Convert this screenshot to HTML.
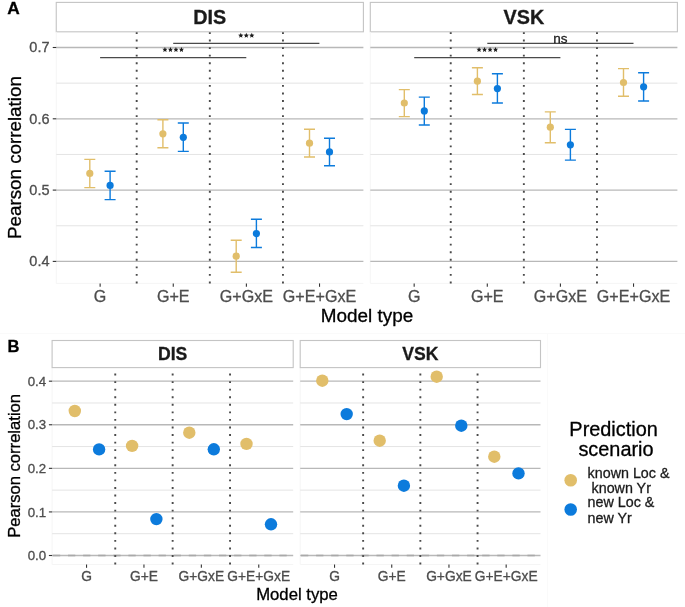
<!DOCTYPE html>
<html><head><meta charset="utf-8"><style>
html,body{margin:0;padding:0;background:#fff;}
svg{display:block;will-change:transform;}
svg text{font-family:"Liberation Sans",sans-serif;stroke-width:0.3px;}
</style></head><body>
<svg width="685" height="607" viewBox="0 0 685 607">
<rect width="685" height="607" fill="#fff"/>
<rect x="56.25" y="2.4" width="307.15" height="29.4" fill="#fff" stroke="#c4c4c4" stroke-width="1.1"/>
<text x="209.82" y="24.2" font-size="19.8" font-weight="bold" text-anchor="middle" fill="#1a1a1a" stroke="#1a1a1a">DIS</text>
<path d="M56.25 31.8V283.4H363.4" fill="none" stroke="#f5f5f5" stroke-width="1"/>
<line x1="56.25" x2="363.4" y1="225.75" y2="225.75" stroke="#e4e4e4" stroke-width="1"/>
<line x1="56.25" x2="363.4" y1="154.45" y2="154.45" stroke="#e4e4e4" stroke-width="1"/>
<line x1="56.25" x2="363.4" y1="83.15" y2="83.15" stroke="#e4e4e4" stroke-width="1"/>
<line x1="56.25" x2="363.4" y1="261.4" y2="261.4" stroke="#b8b8b8" stroke-width="1.3"/>
<line x1="56.25" x2="363.4" y1="190.1" y2="190.1" stroke="#b8b8b8" stroke-width="1.3"/>
<line x1="56.25" x2="363.4" y1="118.8" y2="118.8" stroke="#b8b8b8" stroke-width="1.3"/>
<line x1="56.25" x2="363.4" y1="47.5" y2="47.5" stroke="#b8b8b8" stroke-width="1.3"/>
<line x1="136.69" x2="136.69" y1="283.4" y2="32.2" stroke="#4a4a4a" stroke-width="1.9" stroke-dasharray="1.9 5.66"/>
<line x1="209.82" x2="209.82" y1="283.4" y2="32.2" stroke="#4a4a4a" stroke-width="1.9" stroke-dasharray="1.9 5.66"/>
<line x1="282.96" x2="282.96" y1="283.4" y2="32.2" stroke="#4a4a4a" stroke-width="1.9" stroke-dasharray="1.9 5.66"/>
<line x1="100.13" x2="100.13" y1="283.4" y2="286.8" stroke="#333333" stroke-width="1.1"/>
<line x1="173.26" x2="173.26" y1="283.4" y2="286.8" stroke="#333333" stroke-width="1.1"/>
<line x1="246.39" x2="246.39" y1="283.4" y2="286.8" stroke="#333333" stroke-width="1.1"/>
<line x1="319.52" x2="319.52" y1="283.4" y2="286.8" stroke="#333333" stroke-width="1.1"/>
<text x="100.13" y="301.6" font-size="16.1" text-anchor="middle" fill="#4d4d4d" stroke="#4d4d4d">G</text>
<text x="173.26" y="301.6" font-size="16.1" text-anchor="middle" fill="#4d4d4d" stroke="#4d4d4d">G+E</text>
<text x="246.39" y="301.6" font-size="16.1" text-anchor="middle" fill="#4d4d4d" stroke="#4d4d4d">G+GxE</text>
<text x="319.52" y="301.6" font-size="16.1" text-anchor="middle" fill="#4d4d4d" stroke="#4d4d4d">G+E+GxE</text>
<rect x="370.3" y="2.4" width="307.1" height="29.4" fill="#fff" stroke="#c4c4c4" stroke-width="1.1"/>
<text x="523.85" y="24.2" font-size="19.8" font-weight="bold" text-anchor="middle" fill="#1a1a1a" stroke="#1a1a1a">VSK</text>
<path d="M370.3 31.8V283.4H677.4" fill="none" stroke="#f5f5f5" stroke-width="1"/>
<line x1="370.3" x2="677.4" y1="225.75" y2="225.75" stroke="#e4e4e4" stroke-width="1"/>
<line x1="370.3" x2="677.4" y1="154.45" y2="154.45" stroke="#e4e4e4" stroke-width="1"/>
<line x1="370.3" x2="677.4" y1="83.15" y2="83.15" stroke="#e4e4e4" stroke-width="1"/>
<line x1="370.3" x2="677.4" y1="261.4" y2="261.4" stroke="#b8b8b8" stroke-width="1.3"/>
<line x1="370.3" x2="677.4" y1="190.1" y2="190.1" stroke="#b8b8b8" stroke-width="1.3"/>
<line x1="370.3" x2="677.4" y1="118.8" y2="118.8" stroke="#b8b8b8" stroke-width="1.3"/>
<line x1="370.3" x2="677.4" y1="47.5" y2="47.5" stroke="#b8b8b8" stroke-width="1.3"/>
<line x1="450.73" x2="450.73" y1="283.4" y2="32.2" stroke="#4a4a4a" stroke-width="1.9" stroke-dasharray="1.9 5.66"/>
<line x1="523.85" x2="523.85" y1="283.4" y2="32.2" stroke="#4a4a4a" stroke-width="1.9" stroke-dasharray="1.9 5.66"/>
<line x1="596.97" x2="596.97" y1="283.4" y2="32.2" stroke="#4a4a4a" stroke-width="1.9" stroke-dasharray="1.9 5.66"/>
<line x1="414.17" x2="414.17" y1="283.4" y2="286.8" stroke="#333333" stroke-width="1.1"/>
<line x1="487.29" x2="487.29" y1="283.4" y2="286.8" stroke="#333333" stroke-width="1.1"/>
<line x1="560.41" x2="560.41" y1="283.4" y2="286.8" stroke="#333333" stroke-width="1.1"/>
<line x1="633.53" x2="633.53" y1="283.4" y2="286.8" stroke="#333333" stroke-width="1.1"/>
<text x="414.17" y="301.6" font-size="16.1" text-anchor="middle" fill="#4d4d4d" stroke="#4d4d4d">G</text>
<text x="487.29" y="301.6" font-size="16.1" text-anchor="middle" fill="#4d4d4d" stroke="#4d4d4d">G+E</text>
<text x="560.41" y="301.6" font-size="16.1" text-anchor="middle" fill="#4d4d4d" stroke="#4d4d4d">G+GxE</text>
<text x="633.53" y="301.6" font-size="16.1" text-anchor="middle" fill="#4d4d4d" stroke="#4d4d4d">G+E+GxE</text>
<line x1="52.75" x2="56.25" y1="261.4" y2="261.4" stroke="#333333" stroke-width="1.1"/>
<text x="49.5" y="266.2" font-size="14.5" text-anchor="end" fill="#4d4d4d" stroke="#4d4d4d">0.4</text>
<line x1="52.75" x2="56.25" y1="190.1" y2="190.1" stroke="#333333" stroke-width="1.1"/>
<text x="49.5" y="194.9" font-size="14.5" text-anchor="end" fill="#4d4d4d" stroke="#4d4d4d">0.5</text>
<line x1="52.75" x2="56.25" y1="118.8" y2="118.8" stroke="#333333" stroke-width="1.1"/>
<text x="49.5" y="123.6" font-size="14.5" text-anchor="end" fill="#4d4d4d" stroke="#4d4d4d">0.6</text>
<line x1="52.75" x2="56.25" y1="47.5" y2="47.5" stroke="#333333" stroke-width="1.1"/>
<text x="49.5" y="52.3" font-size="14.5" text-anchor="end" fill="#4d4d4d" stroke="#4d4d4d">0.7</text>
<line x1="100.1" x2="246.3" y1="57.7" y2="57.7" stroke="#4a4a4a" stroke-width="1.2"/>
<polygon points="164.95,46.95 165.68,48.69 167.57,48.85 166.14,50.09 166.57,51.92 164.95,50.95 163.33,51.92 163.76,50.09 162.33,48.85 164.22,48.69" fill="#1c1c1c"/>
<polygon points="170.45,46.95 171.18,48.69 173.07,48.85 171.64,50.09 172.07,51.92 170.45,50.95 168.83,51.92 169.26,50.09 167.83,48.85 169.72,48.69" fill="#1c1c1c"/>
<polygon points="175.95,46.95 176.68,48.69 178.57,48.85 177.14,50.09 177.57,51.92 175.95,50.95 174.33,51.92 174.76,50.09 173.33,48.85 175.22,48.69" fill="#1c1c1c"/>
<polygon points="181.45,46.95 182.18,48.69 184.07,48.85 182.64,50.09 183.07,51.92 181.45,50.95 179.83,51.92 180.26,50.09 178.83,48.85 180.72,48.69" fill="#1c1c1c"/>
<line x1="173.2" x2="319.4" y1="43.45" y2="43.45" stroke="#4a4a4a" stroke-width="1.2"/>
<polygon points="240.80,32.75 241.53,34.49 243.42,34.65 241.99,35.89 242.42,37.72 240.80,36.75 239.18,37.72 239.61,35.89 238.18,34.65 240.07,34.49" fill="#1c1c1c"/>
<polygon points="246.30,32.75 247.03,34.49 248.92,34.65 247.49,35.89 247.92,37.72 246.30,36.75 244.68,37.72 245.11,35.89 243.68,34.65 245.57,34.49" fill="#1c1c1c"/>
<polygon points="251.80,32.75 252.53,34.49 254.42,34.65 252.99,35.89 253.42,37.72 251.80,36.75 250.18,37.72 250.61,35.89 249.18,34.65 251.07,34.49" fill="#1c1c1c"/>
<line x1="414.2" x2="560.4" y1="57.7" y2="57.7" stroke="#4a4a4a" stroke-width="1.2"/>
<polygon points="479.05,46.95 479.78,48.69 481.67,48.85 480.24,50.09 480.67,51.92 479.05,50.95 477.43,51.92 477.86,50.09 476.43,48.85 478.32,48.69" fill="#1c1c1c"/>
<polygon points="484.55,46.95 485.28,48.69 487.17,48.85 485.74,50.09 486.17,51.92 484.55,50.95 482.93,51.92 483.36,50.09 481.93,48.85 483.82,48.69" fill="#1c1c1c"/>
<polygon points="490.05,46.95 490.78,48.69 492.67,48.85 491.24,50.09 491.67,51.92 490.05,50.95 488.43,51.92 488.86,50.09 487.43,48.85 489.32,48.69" fill="#1c1c1c"/>
<polygon points="495.55,46.95 496.28,48.69 498.17,48.85 496.74,50.09 497.17,51.92 495.55,50.95 493.93,51.92 494.36,50.09 492.93,48.85 494.82,48.69" fill="#1c1c1c"/>
<line x1="487.3" x2="633.5" y1="43.45" y2="43.45" stroke="#4a4a4a" stroke-width="1.2"/>
<text x="560.4" y="43.3" font-size="13.5" text-anchor="middle" fill="#1c1c1c" stroke="#1c1c1c">ns</text>
<path d="M84.3 159.4H95.3M89.8 159.4V187.6M84.3 187.6H95.3" stroke="#E1BE6A" stroke-width="1.4" fill="none"/>
<circle cx="89.8" cy="173.4" r="3.6" fill="#E1BE6A"/>
<path d="M104.6 171.3H115.6M110.1 171.3V199.6M104.6 199.6H115.6" stroke="#0C7BDC" stroke-width="1.4" fill="none"/>
<circle cx="110.1" cy="185.4" r="3.6" fill="#0C7BDC"/>
<path d="M157.4 119.8H168.4M162.9 119.8V147.8M157.4 147.8H168.4" stroke="#E1BE6A" stroke-width="1.4" fill="none"/>
<circle cx="162.9" cy="133.8" r="3.6" fill="#E1BE6A"/>
<path d="M177.8 123H188.8M183.3 123V151.4M177.8 151.4H188.8" stroke="#0C7BDC" stroke-width="1.4" fill="none"/>
<circle cx="183.3" cy="137.3" r="3.6" fill="#0C7BDC"/>
<path d="M230.7 240.2H241.7M236.2 240.2V272.3M230.7 272.3H241.7" stroke="#E1BE6A" stroke-width="1.4" fill="none"/>
<circle cx="236.2" cy="256.2" r="3.6" fill="#E1BE6A"/>
<path d="M250.9 219.2H261.9M256.4 219.2V247.5M250.9 247.5H261.9" stroke="#0C7BDC" stroke-width="1.4" fill="none"/>
<circle cx="256.4" cy="233.6" r="3.6" fill="#0C7BDC"/>
<path d="M304.0 129.3H315.0M309.5 129.3V157M304.0 157H315.0" stroke="#E1BE6A" stroke-width="1.4" fill="none"/>
<circle cx="309.5" cy="143.2" r="3.6" fill="#E1BE6A"/>
<path d="M324.0 138.2H335.0M329.5 138.2V165.7M324.0 165.7H335.0" stroke="#0C7BDC" stroke-width="1.4" fill="none"/>
<circle cx="329.5" cy="151.9" r="3.6" fill="#0C7BDC"/>
<path d="M398.8 89.6H409.8M404.3 89.6V116.6M398.8 116.6H409.8" stroke="#E1BE6A" stroke-width="1.4" fill="none"/>
<circle cx="404.3" cy="103" r="3.6" fill="#E1BE6A"/>
<path d="M418.8 97.1H429.8M424.3 97.1V125M418.8 125H429.8" stroke="#0C7BDC" stroke-width="1.4" fill="none"/>
<circle cx="424.3" cy="110.9" r="3.6" fill="#0C7BDC"/>
<path d="M471.9 67.8H482.9M477.4 67.8V94.5M471.9 94.5H482.9" stroke="#E1BE6A" stroke-width="1.4" fill="none"/>
<circle cx="477.4" cy="81.2" r="3.6" fill="#E1BE6A"/>
<path d="M491.9 73.8H502.9M497.4 73.8V103M491.9 103H502.9" stroke="#0C7BDC" stroke-width="1.4" fill="none"/>
<circle cx="497.4" cy="88.6" r="3.6" fill="#0C7BDC"/>
<path d="M544.8 111.9H555.8M550.3 111.9V142.7M544.8 142.7H555.8" stroke="#E1BE6A" stroke-width="1.4" fill="none"/>
<circle cx="550.3" cy="127.2" r="3.6" fill="#E1BE6A"/>
<path d="M564.9 129.4H575.9M570.4 129.4V160.1M564.9 160.1H575.9" stroke="#0C7BDC" stroke-width="1.4" fill="none"/>
<circle cx="570.4" cy="144.8" r="3.6" fill="#0C7BDC"/>
<path d="M618.0 68.6H629.0M623.5 68.6V96.3M618.0 96.3H629.0" stroke="#E1BE6A" stroke-width="1.4" fill="none"/>
<circle cx="623.5" cy="82.5" r="3.6" fill="#E1BE6A"/>
<path d="M638.1 72.8H649.1M643.6 72.8V101M638.1 101H649.1" stroke="#0C7BDC" stroke-width="1.4" fill="none"/>
<circle cx="643.6" cy="86.8" r="3.6" fill="#0C7BDC"/>
<text x="7.2" y="14.2" font-size="17.3" font-weight="bold" fill="#000" stroke="#000">A</text>
<text transform="translate(21.1 157.6) rotate(-90)" x="0" y="0" font-size="18.8" text-anchor="middle" fill="#000" stroke="#000">Pearson correlation</text>
<text x="367" y="322.4" font-size="18.9" text-anchor="middle" fill="#000" stroke="#000">Model type</text>
<path d="M0 333.5H685M547.5 333.5V607" stroke="#fafafa" stroke-width="1" fill="none"/>
<path d="M52.1 367.6V564.5H293.2" fill="none" stroke="#f5f5f5" stroke-width="1"/>
<rect x="52.1" y="340.5" width="241.1" height="27.1" fill="#fff" stroke="#c4c4c4" stroke-width="1.1"/>
<text x="172.65" y="360.4" font-size="17.6" font-weight="bold" text-anchor="middle" fill="#1a1a1a" stroke="#1a1a1a">DIS</text>
<line x1="52.1" x2="293.2" y1="533.71" y2="533.71" stroke="#e4e4e4" stroke-width="1"/>
<line x1="52.1" x2="293.2" y1="490.13" y2="490.13" stroke="#e4e4e4" stroke-width="1"/>
<line x1="52.1" x2="293.2" y1="446.55" y2="446.55" stroke="#e4e4e4" stroke-width="1"/>
<line x1="52.1" x2="293.2" y1="402.97" y2="402.97" stroke="#e4e4e4" stroke-width="1"/>
<line x1="52.1" x2="293.2" y1="555.5" y2="555.5" stroke="#b8b8b8" stroke-width="1.3"/>
<line x1="52.1" x2="293.2" y1="511.92" y2="511.92" stroke="#b8b8b8" stroke-width="1.3"/>
<line x1="52.1" x2="293.2" y1="468.34" y2="468.34" stroke="#b8b8b8" stroke-width="1.3"/>
<line x1="52.1" x2="293.2" y1="424.76" y2="424.76" stroke="#b8b8b8" stroke-width="1.3"/>
<line x1="52.1" x2="293.2" y1="381.18" y2="381.18" stroke="#b8b8b8" stroke-width="1.3"/>
<line x1="115.25" x2="115.25" y1="564.5" y2="368.0" stroke="#4a4a4a" stroke-width="1.9" stroke-dasharray="1.9 5.66"/>
<line x1="172.65" x2="172.65" y1="564.5" y2="368.0" stroke="#4a4a4a" stroke-width="1.9" stroke-dasharray="1.9 5.66"/>
<line x1="230.05" x2="230.05" y1="564.5" y2="368.0" stroke="#4a4a4a" stroke-width="1.9" stroke-dasharray="1.9 5.66"/>
<line x1="86.54" x2="86.54" y1="564.5" y2="567.8" stroke="#333333" stroke-width="1.1"/>
<line x1="143.95" x2="143.95" y1="564.5" y2="567.8" stroke="#333333" stroke-width="1.1"/>
<line x1="201.35" x2="201.35" y1="564.5" y2="567.8" stroke="#333333" stroke-width="1.1"/>
<line x1="258.76" x2="258.76" y1="564.5" y2="567.8" stroke="#333333" stroke-width="1.1"/>
<line x1="52.9" x2="293.2" y1="555.5" y2="555.5" stroke="#7f7f7f" stroke-opacity="0.26" stroke-width="2.5" stroke-dasharray="7.3 7.8"/>
<text x="86.54" y="581" font-size="13.8" text-anchor="middle" fill="#4d4d4d" stroke="#4d4d4d">G</text>
<text x="143.95" y="581" font-size="13.8" text-anchor="middle" fill="#4d4d4d" stroke="#4d4d4d">G+E</text>
<text x="201.35" y="581" font-size="13.8" text-anchor="middle" fill="#4d4d4d" stroke="#4d4d4d">G+GxE</text>
<text x="258.76" y="581" font-size="13.8" text-anchor="middle" fill="#4d4d4d" stroke="#4d4d4d">G+E+GxE</text>
<path d="M300.2 367.6V564.5H540.5" fill="none" stroke="#f5f5f5" stroke-width="1"/>
<rect x="300.2" y="340.5" width="240.3" height="27.1" fill="#fff" stroke="#c4c4c4" stroke-width="1.1"/>
<text x="420.35" y="360.4" font-size="17.6" font-weight="bold" text-anchor="middle" fill="#1a1a1a" stroke="#1a1a1a">VSK</text>
<line x1="300.2" x2="540.5" y1="533.71" y2="533.71" stroke="#e4e4e4" stroke-width="1"/>
<line x1="300.2" x2="540.5" y1="490.13" y2="490.13" stroke="#e4e4e4" stroke-width="1"/>
<line x1="300.2" x2="540.5" y1="446.55" y2="446.55" stroke="#e4e4e4" stroke-width="1"/>
<line x1="300.2" x2="540.5" y1="402.97" y2="402.97" stroke="#e4e4e4" stroke-width="1"/>
<line x1="300.2" x2="540.5" y1="555.5" y2="555.5" stroke="#b8b8b8" stroke-width="1.3"/>
<line x1="300.2" x2="540.5" y1="511.92" y2="511.92" stroke="#b8b8b8" stroke-width="1.3"/>
<line x1="300.2" x2="540.5" y1="468.34" y2="468.34" stroke="#b8b8b8" stroke-width="1.3"/>
<line x1="300.2" x2="540.5" y1="424.76" y2="424.76" stroke="#b8b8b8" stroke-width="1.3"/>
<line x1="300.2" x2="540.5" y1="381.18" y2="381.18" stroke="#b8b8b8" stroke-width="1.3"/>
<line x1="363.14" x2="363.14" y1="564.5" y2="368.0" stroke="#4a4a4a" stroke-width="1.9" stroke-dasharray="1.9 5.66"/>
<line x1="420.35" x2="420.35" y1="564.5" y2="368.0" stroke="#4a4a4a" stroke-width="1.9" stroke-dasharray="1.9 5.66"/>
<line x1="477.56" x2="477.56" y1="564.5" y2="368.0" stroke="#4a4a4a" stroke-width="1.9" stroke-dasharray="1.9 5.66"/>
<line x1="334.53" x2="334.53" y1="564.5" y2="567.8" stroke="#333333" stroke-width="1.1"/>
<line x1="391.74" x2="391.74" y1="564.5" y2="567.8" stroke="#333333" stroke-width="1.1"/>
<line x1="448.96" x2="448.96" y1="564.5" y2="567.8" stroke="#333333" stroke-width="1.1"/>
<line x1="506.17" x2="506.17" y1="564.5" y2="567.8" stroke="#333333" stroke-width="1.1"/>
<line x1="301.0" x2="540.5" y1="555.5" y2="555.5" stroke="#7f7f7f" stroke-opacity="0.26" stroke-width="2.5" stroke-dasharray="7.3 7.8"/>
<text x="334.53" y="581" font-size="13.8" text-anchor="middle" fill="#4d4d4d" stroke="#4d4d4d">G</text>
<text x="391.74" y="581" font-size="13.8" text-anchor="middle" fill="#4d4d4d" stroke="#4d4d4d">G+E</text>
<text x="448.96" y="581" font-size="13.8" text-anchor="middle" fill="#4d4d4d" stroke="#4d4d4d">G+GxE</text>
<text x="506.17" y="581" font-size="13.8" text-anchor="middle" fill="#4d4d4d" stroke="#4d4d4d">G+E+GxE</text>
<line x1="48.9" x2="52.1" y1="555.5" y2="555.5" stroke="#333333" stroke-width="1.1"/>
<text x="46.2" y="560.1" font-size="13.3" text-anchor="end" fill="#4d4d4d" stroke="#4d4d4d">0.0</text>
<line x1="48.9" x2="52.1" y1="511.92" y2="511.92" stroke="#333333" stroke-width="1.1"/>
<text x="46.2" y="516.52" font-size="13.3" text-anchor="end" fill="#4d4d4d" stroke="#4d4d4d">0.1</text>
<line x1="48.9" x2="52.1" y1="468.34" y2="468.34" stroke="#333333" stroke-width="1.1"/>
<text x="46.2" y="472.94" font-size="13.3" text-anchor="end" fill="#4d4d4d" stroke="#4d4d4d">0.2</text>
<line x1="48.9" x2="52.1" y1="424.76" y2="424.76" stroke="#333333" stroke-width="1.1"/>
<text x="46.2" y="429.36" font-size="13.3" text-anchor="end" fill="#4d4d4d" stroke="#4d4d4d">0.3</text>
<line x1="48.9" x2="52.1" y1="381.18" y2="381.18" stroke="#333333" stroke-width="1.1"/>
<text x="46.2" y="385.78" font-size="13.3" text-anchor="end" fill="#4d4d4d" stroke="#4d4d4d">0.4</text>
<circle cx="74.8" cy="411" r="6.2" fill="#E1BE6A"/>
<circle cx="99.1" cy="449.4" r="6.2" fill="#0C7BDC"/>
<circle cx="132.1" cy="445.9" r="6.2" fill="#E1BE6A"/>
<circle cx="156.4" cy="519.1" r="6.2" fill="#0C7BDC"/>
<circle cx="189.3" cy="432.7" r="6.2" fill="#E1BE6A"/>
<circle cx="213.8" cy="449.3" r="6.2" fill="#0C7BDC"/>
<circle cx="246.5" cy="443.9" r="6.2" fill="#E1BE6A"/>
<circle cx="271" cy="524.3" r="6.2" fill="#0C7BDC"/>
<circle cx="322.3" cy="380.7" r="6.2" fill="#E1BE6A"/>
<circle cx="346.7" cy="414.1" r="6.2" fill="#0C7BDC"/>
<circle cx="379.7" cy="440.7" r="6.2" fill="#E1BE6A"/>
<circle cx="403.9" cy="485.7" r="6.2" fill="#0C7BDC"/>
<circle cx="436.7" cy="376.7" r="6.2" fill="#E1BE6A"/>
<circle cx="461.3" cy="425.7" r="6.2" fill="#0C7BDC"/>
<circle cx="494.3" cy="456.7" r="6.2" fill="#E1BE6A"/>
<circle cx="518.5" cy="473.4" r="6.2" fill="#0C7BDC"/>
<text x="7.6" y="352.3" font-size="16.5" font-weight="bold" fill="#000" stroke="#000">B</text>
<text transform="translate(19.8 465.9) rotate(-90)" x="0" y="0" font-size="16.6" text-anchor="middle" fill="#000" stroke="#000">Pearson correlation</text>
<text x="297" y="600" font-size="16.7" text-anchor="middle" fill="#000" stroke="#000">Model type</text>
<text x="613.6" y="435.6" font-size="19.9" text-anchor="middle" fill="#000" stroke="#000">Prediction</text>
<text x="616" y="456" font-size="19.9" text-anchor="middle" fill="#000" stroke="#000">scenario</text>
<circle cx="570.7" cy="480.2" r="6.3" fill="#E1BE6A"/>
<circle cx="570.7" cy="509.5" r="6.3" fill="#0C7BDC"/>
<text x="587.6" y="477.7" font-size="14.3" fill="#1a1a1a" stroke="#1a1a1a">known Loc &amp;</text>
<text x="587.6" y="493.4" font-size="14.3" fill="#1a1a1a" stroke="#1a1a1a"> known Yr</text>
<text x="587.6" y="507.1" font-size="14.3" fill="#1a1a1a" stroke="#1a1a1a">new Loc &amp;</text>
<text x="587.6" y="522.8" font-size="14.3" fill="#1a1a1a" stroke="#1a1a1a">new Yr</text>
</svg>
</body></html>
